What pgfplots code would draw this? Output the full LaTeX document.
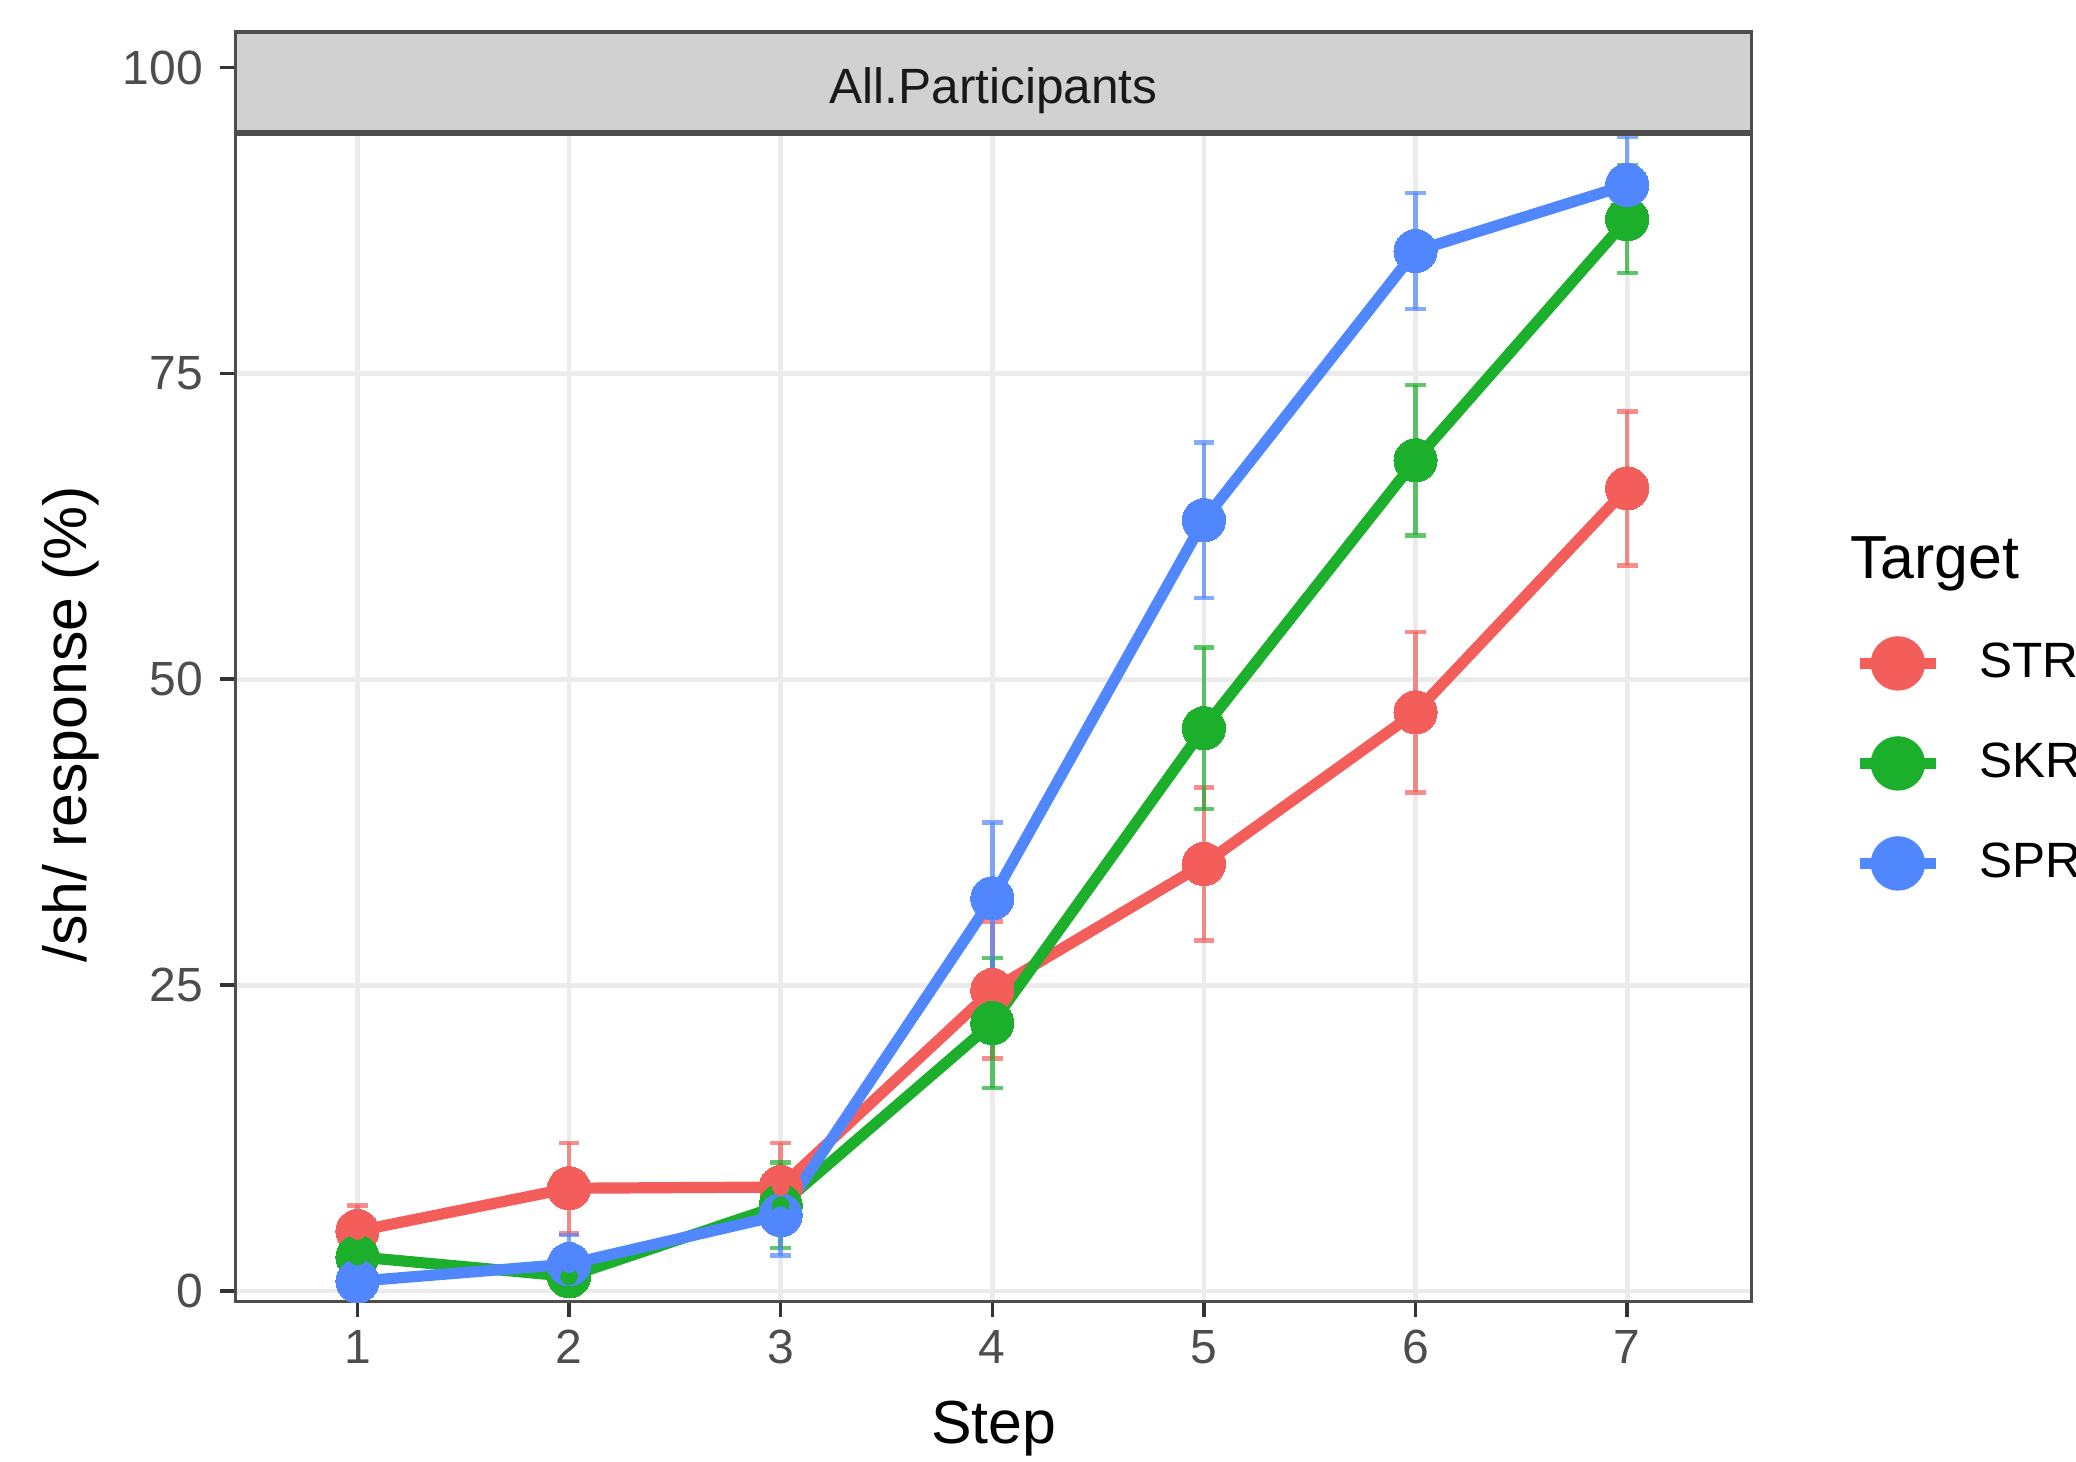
\documentclass[border=0pt]{standalone}
\usepackage{pgfplots}
\pgfplotsset{compat=1.18}
\usepackage{pgfplotstable}
\usepackage{fontspec}
\setmainfont{Liberation Sans}
\definecolor{cR}{HTML}{F35E5A}
\definecolor{cG}{HTML}{1CAF2C}
\definecolor{cB}{HTML}{5087FF}
\definecolor{gridc}{HTML}{EBEBEB}
\definecolor{borderc}{HTML}{4D4D4D}
\definecolor{tickc}{HTML}{333333}
\definecolor{labc}{HTML}{4D4D4D}
\definecolor{stripc}{HTML}{D1D1D1}
\pgfplotstableread{
step y err
1 4.9 2.1
2 8.4 3.7
3 8.5 3.6
4 24.6 5.6
5 34.9 6.25
6 47.3 6.55
7 65.6 6.3
}\tSTR
\pgfplotstableread{
step y err
1 2.8 1.8
2 1.2 1.5
3 7.0 3.5
4 21.9 5.3
5 46.0 6.6
6 67.9 6.15
7 87.6 4.4
}\tSKR
\pgfplotstableread{
step y err
1 0.8 1.2
2 2.2 2.4
3 6.2 3.3
4 32.1 6.2
5 63.0 6.35
6 85.0 4.75
7 90.4 3.9
}\tSPR
\begin{document}
\begin{tikzpicture}
\begin{axis}[name=ax, scale only axis, width=379pt, height=317.4pt,
  xmin=0.4243, xmax=7.588, ymin=-0.866, ymax=102.9,
  xtick={1,2,3,4,5,6,7}, ytick={0,25,50,75,100},
  tick align=outside, tick pos=left,
  major tick length=3.8pt,
  every tick/.style={draw=tickc, line width=0.9pt},
  grid=major, major grid style={draw=gridc, line width=1.2pt},
  axis line style={draw=none},
  clip=false,
  /pgf/number format/assume math mode=true,
  ticklabel style={font=\fontsize{12}{14}\selectfont, text=labc},
  yticklabel style={inner sep=0pt, xshift=-4.2pt},
  xticklabel style={inner sep=0pt, yshift=-3.2pt},
  xlabel={Step}, ylabel={/sh/ response (\%)},
  label style={font=\fontsize{15.2}{18}\selectfont},
  xlabel style={at={(axis description cs:0.5,-0.1116)}, anchor=base, inner sep=0pt},
  ylabel style={at={(axis description cs:-0.0895,0.4546)}, anchor=south, inner sep=0pt},
  legend style={at={(rel axis cs:1.0672,0.4239)}, anchor=west, draw=none, fill=none,
    inner sep=0pt, row sep=11.4pt, column sep=9.4pt,
    nodes={inner sep=0pt, font=\fontsize{12.4}{14}\selectfont}},
  legend cell align=left,
  legend image code/.code={\draw[line width=2.8pt] (0pt,0pt) -- (19pt,0pt); \fill (9.5pt,0pt) circle (5.4pt);},
]
\addplot[color=cR, line width=2.8pt, mark=*, mark size=5.4pt, mark options={solid, line width=0pt}] table[x=step, y=y] {\tSTR};
\addlegendentry{STR}
\addplot[color=cG, line width=2.8pt, mark=*, mark size=5.4pt, mark options={solid, line width=0pt}] table[x=step, y=y] {\tSKR};
\addlegendentry{SKR}
\addplot[color=cB, line width=2.8pt, mark=*, mark size=5.4pt, mark options={solid, line width=0pt}] table[x=step, y=y] {\tSPR};
\addlegendentry{SPR}
\addplot[color=cR, only marks, mark=none, forget plot,
  error bars/.cd, y dir=both, y explicit,
  error bar style={line width=1.1pt, opacity=0.7},
  error mark options={rotate=90, mark size=2.6pt, line width=1.1pt, opacity=0.7}]
  table[x=step, y=y, y error=err] {\tSTR};
\addplot[color=cG, only marks, mark=none, forget plot,
  error bars/.cd, y dir=both, y explicit,
  error bar style={line width=1.1pt, opacity=0.7},
  error mark options={rotate=90, mark size=2.6pt, line width=1.1pt, opacity=0.7}]
  table[x=step, y=y, y error=err] {\tSKR};
\addplot[color=cB, only marks, mark=none, forget plot,
  error bars/.cd, y dir=both, y explicit,
  error bar style={line width=1.1pt, opacity=0.7},
  error mark options={rotate=90, mark size=2.6pt, line width=1.1pt, opacity=0.7}]
  table[x=step, y=y, y error=err] {\tSPR};
% facet strip
\fill[stripc] (rel axis cs:0,0.9204) rectangle (rel axis cs:1,1);
\draw[borderc, line width=1.4pt] (rel axis cs:0,0.9204) -- (rel axis cs:1,0.9204);
\draw[borderc, line width=0.9pt] (rel axis cs:0,0) rectangle (rel axis cs:1,1);
\node[anchor=base, inner sep=0pt, font=\fontsize{12.4}{14}\selectfont, text=black!90] at (rel axis cs:0.5,0.9437) {All.Participants};
\node[anchor=base west, inner sep=0pt, font=\fontsize{15.2}{18}\selectfont] at (rel axis cs:1.0646,0.5693) {Target};
\end{axis}
\pgfresetboundingbox
\path[use as bounding box] ([shift={(-58.9pt,-39.9pt)}]ax.south west) rectangle ([shift={(81.1pt,8pt)}]ax.north east);
\end{tikzpicture}
\end{document}
